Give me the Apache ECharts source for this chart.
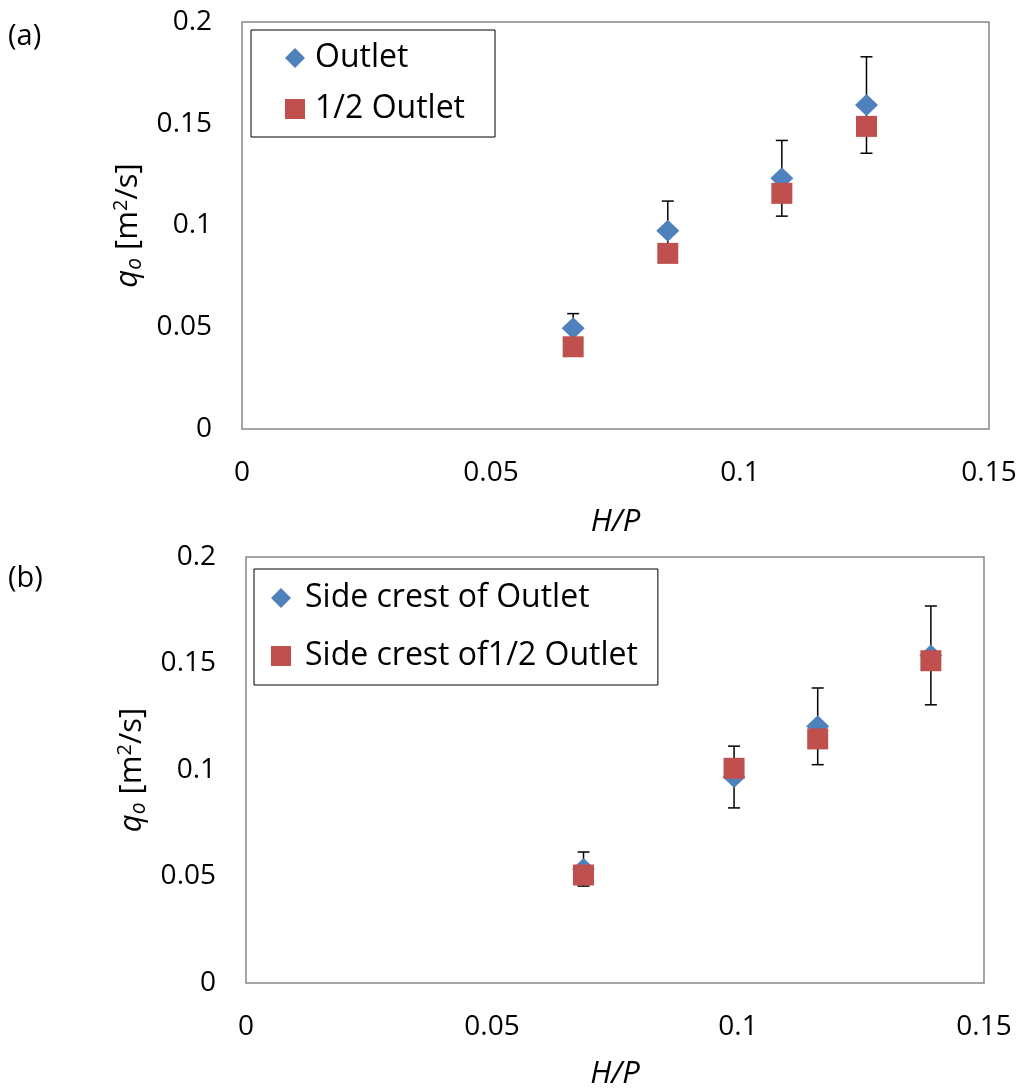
<!DOCTYPE html>
<html>
<head>
<meta charset="utf-8">
<script src="https://cdn.jsdelivr.net/npm/echarts@6/dist/echarts.min.js"></script>
<style>
    html, body { margin: 0; padding: 0; background: #fff; }
    #chart { width: 1019px; height: 1092px; }
</style>
</head>
<body>
<div id="chart"></div>
<script>
// panel (a)
const hpA = [0.0665, 0.0855, 0.1084, 0.1254];
const outletA = [0.0495, 0.0974, 0.1232, 0.1592];
const halfOutletA = [0.0404, 0.0863, 0.1158, 0.1487];
const errA = [0.0072, 0.0146, 0.0186, 0.0237];

// panel (b)
const hpB = [0.0686, 0.0992, 0.1162, 0.1392];
const sideOutletB = [0.0535, 0.0967, 0.1205, 0.1538];
const sideHalfB = [0.0507, 0.1008, 0.1146, 0.1513];
const errB = [0.008, 0.0145, 0.018, 0.0232];

const namesA = ["Outlet", "1/2 Outlet"];
const namesB = ["Side crest of Outlet", "Side crest of1/2 Outlet"];

const FONT = "Open Sans";
const BLUE = "#4F81BD";
const RED = "#C0504D";
const GREY = "#868686";

const chart = echarts.init(document.getElementById("chart"));

const pairs = (xs, ys) => xs.map((x, i) => [x, ys[i]]);

function errorSeries(xs, ys, errs, idx) {
    return {
        type: "custom",
        xAxisIndex: idx,
        yAxisIndex: idx,
        z: 1,
        silent: true,
        data: xs.map((x, i) => [x, ys[i] - errs[i], ys[i] + errs[i]]),
        renderItem: (params, api) => {
            const lo = api.coord([api.value(0), api.value(1)]);
            const hi = api.coord([api.value(0), api.value(2)]);
            const cap = 6;
            const style = { stroke: "#000", lineWidth: 1.5 };
            return {
                type: "group",
                children: [
                    { type: "line", shape: { x1: lo[0], y1: lo[1], x2: hi[0], y2: hi[1] }, style },
                    { type: "line", shape: { x1: lo[0] - cap, y1: lo[1], x2: lo[0] + cap, y2: lo[1] }, style },
                    { type: "line", shape: { x1: hi[0] - cap, y1: hi[1], x2: hi[0] + cap, y2: hi[1] }, style }
                ]
            };
        }
    };
}

function xAxis(idx, gap) {
    return {
        type: "value",
        gridIndex: idx,
        min: 0,
        max: 0.15,
        interval: 0.05,
        name: "H/P",
        nameLocation: "middle",
        nameGap: gap,
        nameTextStyle: { fontFamily: FONT, fontSize: 31, fontStyle: "italic", color: "#000" },
        axisLine: { show: false },
        axisTick: { show: false },
        splitLine: { show: false },
        axisLabel: { fontFamily: FONT, fontSize: 28, color: "#000", margin: 30 }
    };
}

function yAxis(idx) {
    return {
        type: "value",
        gridIndex: idx,
        min: 0,
        max: 0.2,
        interval: 0.05,
        name: "{q|q}{o|o}{t| [m}{s|2}{t|/s]}",
        nameLocation: "middle",
        nameGap: 92,
        nameRotate: 90,
        nameTextStyle: {
            color: "#000",
            rich: {
                q: { fontFamily: FONT, fontSize: 31, fontStyle: "italic", color: "#000" },
                o: { fontFamily: FONT, fontSize: 21, fontStyle: "italic", color: "#000", padding: [15, 0, 0, 0] },
                t: { fontFamily: FONT, fontSize: 31, color: "#000" },
                s: { fontFamily: FONT, fontSize: 20, color: "#000", padding: [0, 0, 13, 0] }
            }
        },
        axisLine: { show: false },
        axisTick: { show: false },
        splitLine: { show: false },
        axisLabel: { fontFamily: FONT, fontSize: 28, color: "#000", margin: 30 }
    };
}

function legend(names, left, top, padding, gap, textPad) {
    return {
        data: [
            { name: names[0], icon: "diamond" },
            { name: names[1], icon: "rect" }
        ],
        orient: "vertical",
        left: left,
        top: top,
        padding: padding,
        itemGap: gap,
        itemWidth: 20,
        itemHeight: 20,
        borderColor: "#000",
        borderWidth: 1,
        backgroundColor: "#fff",
        selectedMode: false,
        textStyle: { fontFamily: FONT, fontSize: 32, color: "#000", padding: [0, 0, 0, textPad] }
    };
}

const option = {
    animation: false,
    backgroundColor: "#fff",
    title: [
        { text: "(a)", left: 8, top: 22, textStyle: { fontFamily: FONT, fontSize: 29, fontWeight: "normal", color: "#000" }, padding: 0 },
        { text: "(b)", left: 8, top: 564, textStyle: { fontFamily: FONT, fontSize: 29, fontWeight: "normal", color: "#000" }, padding: 0 }
    ],
    grid: [
        { left: 242, top: 22, width: 747, height: 407, outerBoundsMode: "none", show: true, borderColor: GREY, borderWidth: 1.5, backgroundColor: "#fff" },
        { left: 246, top: 557, width: 738, height: 426, outerBoundsMode: "none", show: true, borderColor: GREY, borderWidth: 1.5, backgroundColor: "#fff" }
    ],
    legend: [
        legend(namesA, 251, 30, [12, 30, 12, 34], 19, 5),
        legend(namesB, 254, 569, [13, 20, 13, 17], 26, 9)
    ],
    xAxis: [xAxis(0, 78), xAxis(1, 76)],
    yAxis: [yAxis(0), yAxis(1)],
    series: [
        errorSeries(hpA, outletA, errA, 0),
        {
            name: namesA[0], type: "scatter", xAxisIndex: 0, yAxisIndex: 0, z: 2,
            symbol: "diamond", symbolSize: [23, 22],
            itemStyle: { color: BLUE, opacity: 1 },
            data: pairs(hpA, outletA)
        },
        {
            name: namesA[1], type: "scatter", xAxisIndex: 0, yAxisIndex: 0, z: 3,
            symbol: "rect", symbolSize: 21,
            itemStyle: { color: RED, opacity: 1 },
            data: pairs(hpA, halfOutletA)
        },
        errorSeries(hpB, sideOutletB, errB, 1),
        {
            name: namesB[0], type: "scatter", xAxisIndex: 1, yAxisIndex: 1, z: 2,
            symbol: "diamond", symbolSize: [23, 22],
            itemStyle: { color: BLUE, opacity: 1 },
            data: pairs(hpB, sideOutletB)
        },
        {
            name: namesB[1], type: "scatter", xAxisIndex: 1, yAxisIndex: 1, z: 3,
            symbol: "rect", symbolSize: 21,
            itemStyle: { color: RED, opacity: 1 },
            data: pairs(hpB, sideHalfB)
        }
    ]
};

chart.setOption(option);
</script>
</body>
</html>
